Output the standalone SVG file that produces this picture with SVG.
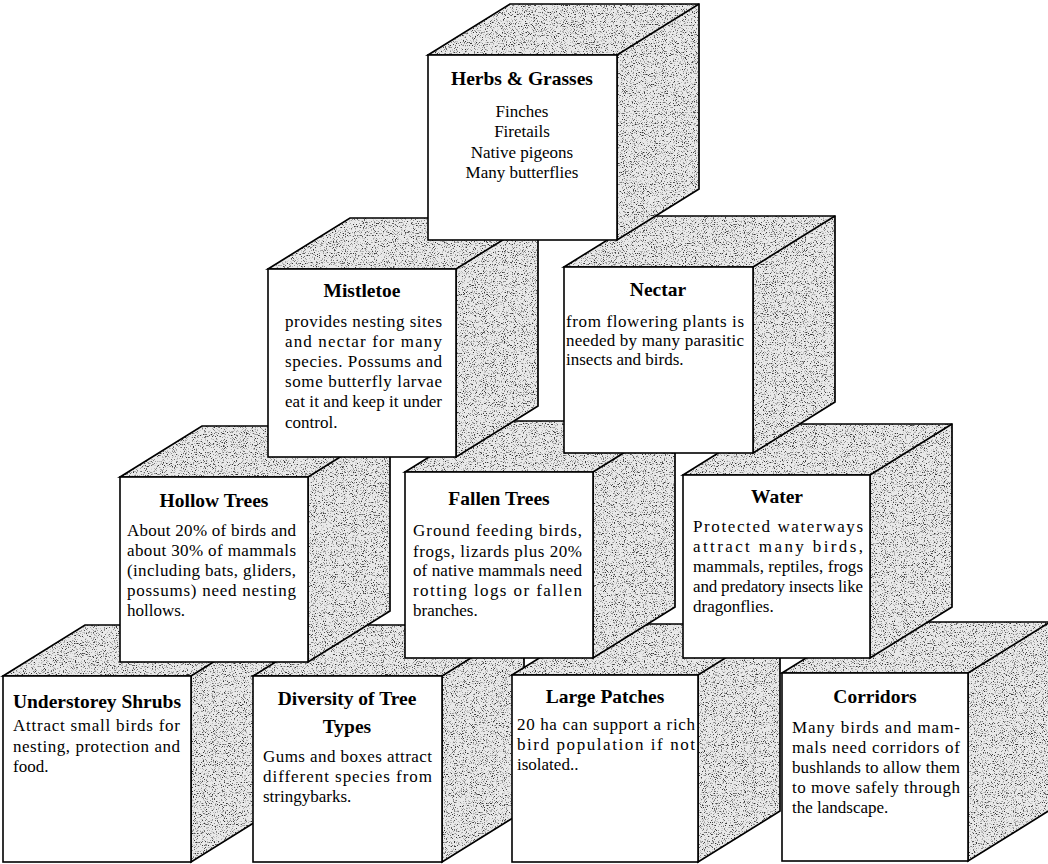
<svg xmlns="http://www.w3.org/2000/svg" width="1048" height="864" viewBox="0 0 1048 864">
<defs>
<filter id="stipple" x="0" y="0" width="1" height="1" color-interpolation-filters="sRGB">
<feTurbulence type="fractalNoise" baseFrequency="0.9" numOctaves="2" seed="7" result="noise"/>
<feColorMatrix in="noise" type="matrix" values="0 0 0 0 0.2  0 0 0 0 0.2  0 0 0 0 0.2  -5 0 0 0 2.25" result="dots"/>
<feFlood flood-color="#e9e9e9" result="bg"/>
<feMerge result="m"><feMergeNode in="bg"/><feMergeNode in="dots"/></feMerge>
<feComposite in="m" in2="SourceAlpha" operator="in"/>
</filter>
<style>
.shade{fill:#000;filter:url(#stipple)}
.edge{fill:none;stroke:#000;stroke-width:1.7;stroke-linejoin:miter}
.face{fill:#fff;stroke:#000;stroke-width:1.6}
.t{font-family:"Liberation Serif","Times New Roman",serif;font-weight:bold;font-size:19.5px;fill:#000;text-anchor:middle}
.b{font-family:"Liberation Serif","Times New Roman",serif;font-size:17px;fill:#000}
.c{text-anchor:middle}
</style>
</defs>
<rect width="1048" height="864" fill="#fff"/>

<!-- Row 4 -->
<g id="understorey">
<polygon class="shade" points="3,676 85,625 273,625 273,811 191,862 191,676"/>
<polygon class="edge" points="3,676 85,625 273,625 273,811 191,862 191,676"/>
<line class="edge" x1="191" y1="676" x2="273" y2="625"/>
<rect class="face" x="3" y="676" width="188" height="186"/>
<text class="t" x="97" y="708">Understorey Shrubs</text>
<text class="b" x="13" y="731" textLength="167" lengthAdjust="spacing">Attract small birds for</text>
<text class="b" x="13" y="752" textLength="167" lengthAdjust="spacing">nesting, protection and</text>
<text class="b" x="13" y="772">food.</text>
</g>
<g id="diversity">
<polygon class="shade" points="253,676 335,625 524,625 524,811 442,862 442,676"/>
<polygon class="edge" points="253,676 335,625 524,625 524,811 442,862 442,676"/>
<line class="edge" x1="442" y1="676" x2="524" y2="625"/>
<rect class="face" x="253" y="676" width="189" height="186"/>
<text class="t" x="347" y="705">Diversity of Tree</text>
<text class="t" x="347" y="733">Types</text>
<text class="b" x="263" y="762" textLength="169" lengthAdjust="spacing">Gums and boxes attract</text>
<text class="b" x="263" y="782" textLength="169" lengthAdjust="spacing">different species from</text>
<text class="b" x="263" y="802">stringybarks.</text>
</g>
<g id="large-patches">
<polygon class="shade" points="512,675 594,624 780,624 780,811 698,862 698,675"/>
<polygon class="edge" points="512,675 594,624 780,624 780,811 698,862 698,675"/>
<line class="edge" x1="698" y1="675" x2="780" y2="624"/>
<rect class="face" x="512" y="675" width="186" height="187"/>
<text class="t" x="605" y="703">Large Patches</text>
<text class="b" x="517" y="730" textLength="178" lengthAdjust="spacing">20 ha can support a rich</text>
<text class="b" x="517" y="750" textLength="178" lengthAdjust="spacing">bird population if not</text>
<text class="b" x="517" y="770">isolated..</text>
</g>
<g id="corridors">
<polygon class="shade" points="782,673 864,622 1050,622 1050,810 968,861 968,673"/>
<polygon class="edge" points="782,673 864,622 1050,622 1050,810 968,861 968,673"/>
<line class="edge" x1="968" y1="673" x2="1050" y2="622"/>
<rect class="face" x="782" y="673" width="186" height="188"/>
<text class="t" x="875" y="703">Corridors</text>
<text class="b" x="792" y="733" textLength="168" lengthAdjust="spacing">Many birds and mam-</text>
<text class="b" x="792" y="753" textLength="168" lengthAdjust="spacing">mals need corridors of</text>
<text class="b" x="792" y="773" textLength="168" lengthAdjust="spacing">bushlands to allow them</text>
<text class="b" x="792" y="793" textLength="168" lengthAdjust="spacing">to move safely through</text>
<text class="b" x="792" y="813">the landscape.</text>
</g>

<!-- Row 3 -->
<g id="hollow-trees">
<polygon class="shade" points="120,477 202,426 390,426 390,611 308,662 308,477"/>
<polygon class="edge" points="120,477 202,426 390,426 390,611 308,662 308,477"/>
<line class="edge" x1="308" y1="477" x2="390" y2="426"/>
<rect class="face" x="120" y="477" width="188" height="185"/>
<text class="t" x="214" y="507">Hollow Trees</text>
<text class="b" x="127" y="536" textLength="169" lengthAdjust="spacing">About 20% of birds and</text>
<text class="b" x="127" y="556" textLength="169" lengthAdjust="spacing">about 30% of mammals</text>
<text class="b" x="127" y="576" textLength="169" lengthAdjust="spacing">(including bats, gliders,</text>
<text class="b" x="127" y="596" textLength="169" lengthAdjust="spacing">possums) need nesting</text>
<text class="b" x="127" y="616">hollows.</text>
</g>
<g id="fallen-trees">
<polygon class="shade" points="405,472 487,421 675,421 675,607 593,658 593,472"/>
<polygon class="edge" points="405,472 487,421 675,421 675,607 593,658 593,472"/>
<line class="edge" x1="593" y1="472" x2="675" y2="421"/>
<rect class="face" x="405" y="472" width="188" height="186"/>
<text class="t" x="499" y="505">Fallen Trees</text>
<text class="b" x="413" y="536" textLength="169" lengthAdjust="spacing">Ground feeding birds,</text>
<text class="b" x="413" y="557" textLength="169" lengthAdjust="spacing">frogs, lizards plus 20%</text>
<text class="b" x="413" y="576" textLength="169" lengthAdjust="spacing">of native mammals need</text>
<text class="b" x="413" y="596" textLength="169" lengthAdjust="spacing">rotting logs or fallen</text>
<text class="b" x="413" y="616">branches.</text>
</g>
<g id="water">
<polygon class="shade" points="683,475 765,424 952,424 952,607 870,658 870,475"/>
<polygon class="edge" points="683,475 765,424 952,424 952,607 870,658 870,475"/>
<line class="edge" x1="870" y1="475" x2="952" y2="424"/>
<rect class="face" x="683" y="475" width="187" height="183"/>
<text class="t" x="777" y="503">Water</text>
<text class="b" x="693" y="532" textLength="170" lengthAdjust="spacing">Protected waterways</text>
<text class="b" x="693" y="552" textLength="170" lengthAdjust="spacing">attract many birds,</text>
<text class="b" x="693" y="572" textLength="170" lengthAdjust="spacing">mammals, reptiles, frogs</text>
<text class="b" x="693" y="592" textLength="170" lengthAdjust="spacing">and predatory insects like</text>
<text class="b" x="693" y="612">dragonflies.</text>
</g>

<!-- Row 2 -->
<g id="mistletoe">
<polygon class="shade" points="268,269 350,218 538,218 538,406 456,457 456,269"/>
<polygon class="edge" points="268,269 350,218 538,218 538,406 456,457 456,269"/>
<line class="edge" x1="456" y1="269" x2="538" y2="218"/>
<rect class="face" x="268" y="269" width="188" height="188"/>
<text class="t" x="362" y="297">Mistletoe</text>
<text class="b" x="285" y="327" textLength="157" lengthAdjust="spacing">provides nesting sites</text>
<text class="b" x="285" y="347" textLength="157" lengthAdjust="spacing">and nectar for many</text>
<text class="b" x="285" y="367" textLength="157" lengthAdjust="spacing">species. Possums and</text>
<text class="b" x="285" y="387" textLength="157" lengthAdjust="spacing">some butterfly larvae</text>
<text class="b" x="285" y="407" textLength="157" lengthAdjust="spacing">eat it and keep it under</text>
<text class="b" x="285" y="428">control.</text>
</g>
<g id="nectar">
<polygon class="shade" points="564,267 646,216 835,216 835,402 753,453 753,267"/>
<polygon class="edge" points="564,267 646,216 835,216 835,402 753,453 753,267"/>
<line class="edge" x1="753" y1="267" x2="835" y2="216"/>
<rect class="face" x="564" y="267" width="189" height="186"/>
<text class="t" x="658" y="296">Nectar</text>
<text class="b" x="566" y="327" textLength="178" lengthAdjust="spacing">from flowering plants is</text>
<text class="b" x="566" y="346" textLength="178" lengthAdjust="spacing">needed by many parasitic</text>
<text class="b" x="566" y="365">insects and birds.</text>
</g>

<!-- Row 1 -->
<g id="herbs-grasses">
<polygon class="shade" points="428,55 510,4 699,4 699,189 617,240 617,55"/>
<polygon class="edge" points="428,55 510,4 699,4 699,189 617,240 617,55"/>
<line class="edge" x1="617" y1="55" x2="699" y2="4"/>
<rect class="face" x="428" y="55" width="189" height="185"/>
<text class="t" x="522" y="85">Herbs &amp; Grasses</text>
<text class="b c" x="522" y="117">Finches</text>
<text class="b c" x="522" y="137">Firetails</text>
<text class="b c" x="522" y="158">Native pigeons</text>
<text class="b c" x="522" y="178">Many butterflies</text>
</g>
</svg>
